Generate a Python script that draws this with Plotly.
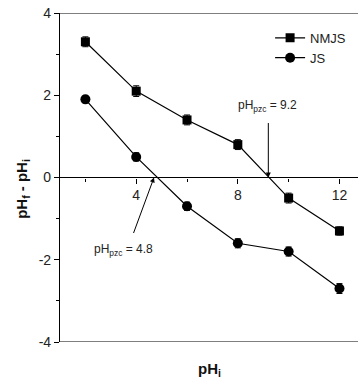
import plotly.graph_objects as go

ph_initial = [2, 4, 6, 8, 10, 12]
nmjs = [3.3, 2.1, 1.4, 0.8, -0.5, -1.3]
js = [1.9, 0.5, -0.7, -1.6, -1.8, -2.7]
nmjs_err = [0.12, 0.13, 0.12, 0.12, 0.12, 0.1]
js_err = [0.08, 0.1, 0.1, 0.11, 0.11, 0.12]
y_ticks = [-4, -2, 0, 2, 4]
y_tick_labels = ["-4", "-2", "0", "2", "4"]
x_ticks = [4, 8, 12]
x_tick_labels = ["4", "8", "12"]
pzc_nmjs = 9.2
pzc_js = 4.8

FONT = "Liberation Sans, Arial, sans-serif"

fig = go.Figure()
fig.add_trace(go.Scatter(
    x=ph_initial, y=nmjs, name="NMJS", mode="lines+markers",
    line=dict(color="black", width=1.2),
    marker=dict(symbol="square", size=9, color="black"),
    error_y=dict(type="data", array=nmjs_err, color="black", thickness=1, width=3),
))
fig.add_trace(go.Scatter(
    x=ph_initial, y=js, name="JS", mode="lines+markers",
    line=dict(color="black", width=1.2),
    marker=dict(symbol="circle", size=10, color="black"),
    error_y=dict(type="data", array=js_err, color="black", thickness=1, width=3),
))

fig.update_layout(
    width=358, height=383,
    margin=dict(l=60, r=0, t=13, b=41),
    paper_bgcolor="white", plot_bgcolor="white",
    font=dict(family=FONT, color="#222", size=14),
    showlegend=True,
    legend=dict(x=0.705, y=0.97, xanchor="left", yanchor="top",
                bgcolor="rgba(0,0,0,0)", font=dict(size=13, color="#222"),
                itemwidth=30, tracegroupgap=0),
    xaxis=dict(range=[1, 12.73], showgrid=False, zeroline=False,
               anchor="free", position=0.5,
               showline=False,
               tickmode="array", tickvals=x_ticks, ticktext=x_tick_labels,
               ticks="outside", ticklen=5, tickcolor="black", tickwidth=1,
               minor=dict(tickmode="array", tickvals=[2, 6, 10], ticks="outside",
                          ticklen=3, tickcolor="black", tickwidth=1),
               tickfont=dict(size=14, color="#222")),
    yaxis=dict(range=[-4, 4], showgrid=False, zeroline=True, zerolinecolor="black",
               zerolinewidth=1.2,
               showline=True, linecolor="black", linewidth=1.2,
               tickmode="array", tickvals=y_ticks, ticktext=y_tick_labels,
               ticks="outside", ticklen=5, tickcolor="black", tickwidth=1,
               ticklabeloverflow="allow",
               minor=dict(tickmode="array", tickvals=[-3, -1, 1, 3], ticks="outside",
                          ticklen=3, tickcolor="black", tickwidth=1),
               tickfont=dict(size=14, color="#222")),
)

# top and bottom frame lines
fig.add_shape(type="line", xref="paper", yref="y", x0=0, x1=1, y0=4, y1=4,
              line=dict(color="black", width=1.2))
fig.add_shape(type="line", xref="paper", yref="y", x0=0, x1=1, y0=-4, y1=-4,
              line=dict(color="black", width=1.2))

# pzc annotations
fig.add_annotation(x=pzc_nmjs, y=0, xref="x", yref="y", text="",
                   showarrow=True, arrowhead=2, arrowsize=1, arrowwidth=1,
                   arrowcolor="black", ax=0, ay=-56, standoff=0)
fig.add_annotation(x=pzc_nmjs, y=0, xref="x", yref="y", yshift=72,
                   text="pH<sub>pzc</sub> = 9.2", showarrow=False,
                   font=dict(size=12, color="#222"), xshift=-1)
fig.add_annotation(x=pzc_js - 0.1, y=0, xref="x", yref="y", text="",
                   showarrow=True, arrowhead=2, arrowsize=1, arrowwidth=1,
                   arrowcolor="black", ax=-21, ay=57, standoff=0)
fig.add_annotation(x=pzc_js, y=0, xref="x", yref="y", yshift=-72, xshift=-33,
                   text="pH<sub>pzc</sub> = 4.8", showarrow=False,
                   font=dict(size=12, color="#222"))

# axis titles
fig.add_annotation(x=-0.128, y=0.465, xref="paper", yref="paper",
                   xanchor="center", yanchor="middle",
                   text="<b>pH<sub>f</sub> - pH<sub>i</sub></b>", textangle=-90,
                   showarrow=False, font=dict(size=15, color="#111"))
fig.add_annotation(x=0.503, y=-0.085, xref="paper", yref="paper",
                   xanchor="center", yanchor="middle",
                   text="<b>pH<sub>i</sub></b>", showarrow=False,
                   font=dict(size=15, color="#111"))

fig.write_html("out.html", config={"displayModeBar": False},
               post_script="document.body.style.margin='0';document.body.style.overflow='hidden';")
